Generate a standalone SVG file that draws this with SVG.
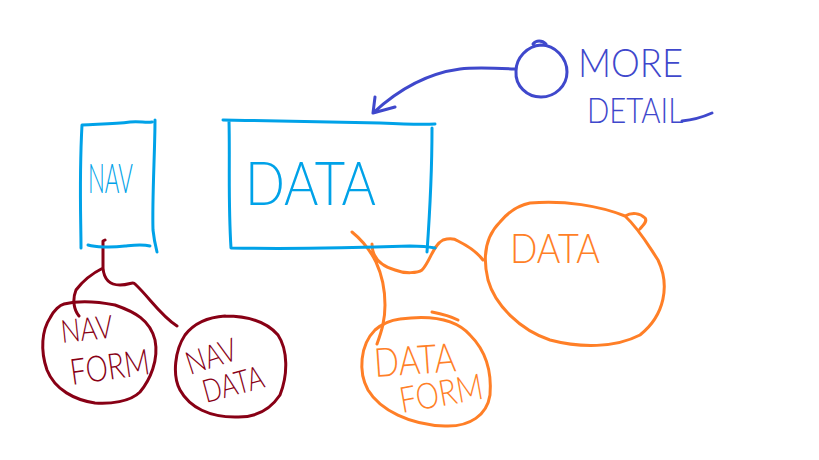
<svg xmlns="http://www.w3.org/2000/svg" width="819" height="460" viewBox="0 0 819 460">
<style>
.s{fill:none;stroke-width:3;stroke-linecap:round;stroke-linejoin:round}
.blue{stroke:#00a2e8}.red{stroke:#880015}.org{stroke:#ff7f27}.ind{stroke:#3f48cc}
.t{font-family:Lato,"Liberation Sans",sans-serif;font-weight:300;text-anchor:start}
.tb{fill:#00a2e8}.tr{fill:#880015}.to{fill:#ff7f27}.ti{fill:#3f48cc}
</style>
<rect width="819" height="460" fill="#fff"/>
<g id="connectors">
<path class="s ind" d="M515,69 C495,68 475,67 460,69 C430,73 400,88 373,113 M375,97 L373,113 L395,107"/>
<path class="s red" d="M105,240 L103,241 L103,268 C95,272 85,278 76,290 C72,300 74,310 79,316 M103,268 C104,280 110,285 120,285 C130,285 133,281 135,284 C150,298 160,315 177,326"/>
<path class="s org" d="M352,232 C362,240 370,250 376,262 C382,275 385,290 385,305 C385,320 382,330 377,344 M372,244 C372,255 378,265 395,270 C405,274 418,273 422,270 C430,262 433,245 443,240 C450,238 455,239 458,241 C468,246 477,252 483,260"/>
</g>
<g id="nav">
<path class="s blue" d="M81,248 C81,220 79,180 82,125 C100,124 115,124 130,122 C140,121 145,123 152,122 M155,120 C155,150 152,200 153,230 C154,240 156,248 157,252 M88,245 C95,247 110,248 125,246 C135,245 142,244 150,246"/>
<text class="t tb" x="88" y="193" font-size="42" textLength="45" lengthAdjust="spacingAndGlyphs">NAV</text>
</g>
<g id="data">
<path class="s blue" d="M223,120 C280,121 340,122 380,123 C400,124 420,125 435,124 M229,121 C230,160 228,200 231,248 C290,249 350,248 410,246 C420,246 430,247 435,248 M432,128 C432,170 430,210 427,252"/>
<text class="t tb" x="245" y="205" font-size="62" textLength="131" lengthAdjust="spacingAndGlyphs">DATA</text>
</g>
<g id="more-detail">
<path class="s ind" d="M541,45 C555,45 567,58 567,72 C567,86 555,97 541,97 C527,97 515,86 516,71 C516,58 527,46 541,45 M533,44 C536,40 542,40 546,44"/>
<text class="t ti" x="578" y="77" font-size="40" textLength="105" lengthAdjust="spacingAndGlyphs">MORE</text>
<text class="t ti" x="587" y="123" font-size="36" textLength="96" lengthAdjust="spacingAndGlyphs">DETAIL</text>
<path class="s ind" d="M682,121 C692,120 703,117 712,113"/>
</g>
<g id="nav-form">
<path class="s red" d="M64,304 C80,300 100,302 115,305 C135,312 150,320 155,340 C159,360 150,380 140,392 C130,402 110,404 95,403 C75,400 55,390 47,370 C40,350 42,330 50,318 C54,310 60,305 64,304"/>
<text class="t tr" transform="rotate(-6 62 343)" x="62" y="343" font-size="32" textLength="52" lengthAdjust="spacingAndGlyphs">NAV</text>
<text class="t tr" transform="rotate(-8 72 385)" x="72" y="385" font-size="36" textLength="80" lengthAdjust="spacingAndGlyphs">FORM</text>
</g>
<g id="nav-data">
<path class="s red" d="M225,316 C245,316 265,320 278,335 C288,350 288,375 280,395 C270,410 255,418 235,417 C210,417 190,408 180,390 C172,375 175,350 185,335 C195,322 210,317 225,316"/>
<text class="t tr" transform="rotate(-18 190 375)" x="190" y="375" font-size="32" textLength="52" lengthAdjust="spacingAndGlyphs">NAV</text>
<text class="t tr" transform="rotate(-15 206 403)" x="206" y="403" font-size="32" textLength="62" lengthAdjust="spacingAndGlyphs">DATA</text>
</g>
<g id="data-form">
<path class="s org" d="M400,319 C430,315 455,318 470,335 C485,350 492,370 490,395 C487,415 470,427 445,426 C410,425 380,410 368,390 C358,372 360,345 375,330 C383,323 392,320 400,319 M432,312 C442,314 452,317 458,320"/>
<text class="t to" transform="rotate(-4 375 377)" x="375" y="377" font-size="40" textLength="82" lengthAdjust="spacingAndGlyphs">DATA</text>
<text class="t to" transform="rotate(-10 402 413)" x="402" y="413" font-size="36" textLength="84" lengthAdjust="spacingAndGlyphs">FORM</text>
</g>
<g id="data-orange">
<path class="s org" d="M530,203 C565,200 600,206 625,216 C640,230 648,245 658,260 C670,285 665,315 640,335 C615,348 580,348 550,340 C520,330 495,305 488,280 C482,255 487,235 500,222 C510,210 520,205 530,203 M625,216 C632,212 640,213 645,218 C648,222 642,226 640,229"/>
<text class="t to" x="510" y="263" font-size="42" textLength="90" lengthAdjust="spacingAndGlyphs">DATA</text>
</g>
</svg>
